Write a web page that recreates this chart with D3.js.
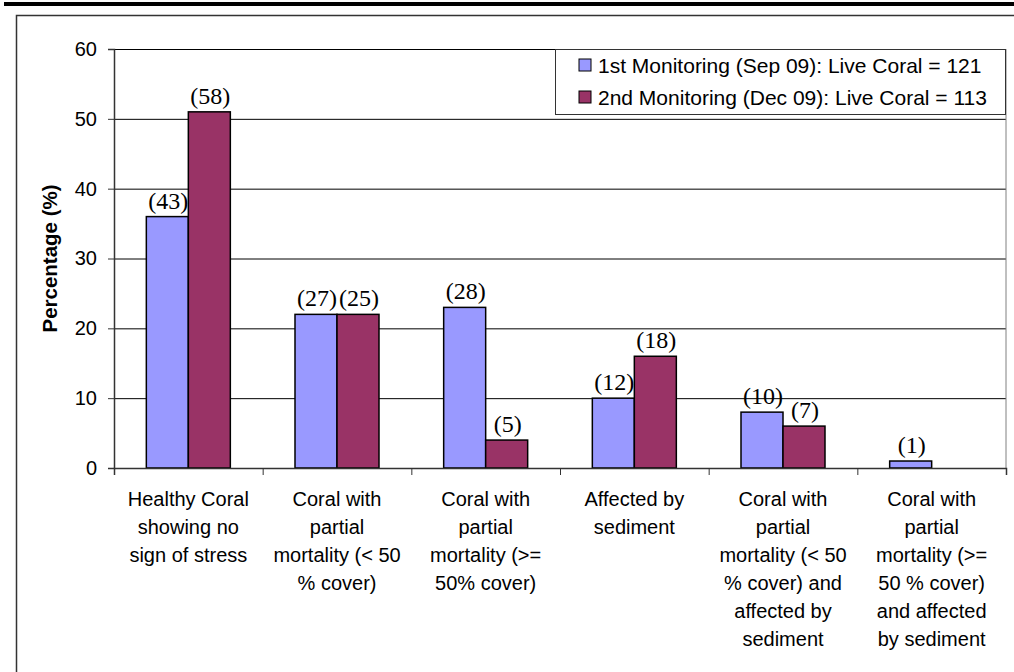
<!DOCTYPE html>
<html>
<head>
<meta charset="utf-8">
<script src="https://cdn.jsdelivr.net/npm/d3@7/dist/d3.min.js"></script>
<style>
  body { margin: 0; background: #fff; }
  svg text { font-family: "Liberation Sans", Arial, sans-serif; }
</style>
</head>
<body>
<div id="chart"></div>
<script>
// the data
var categories = [
    ["Healthy Coral", "showing no", "sign of stress"],
    ["Coral with", "partial", "mortality (< 50", "% cover)"],
    ["Coral with", "partial", "mortality (>=", "50% cover)"],
    ["Affected by", "sediment"],
    ["Coral with", "partial", "mortality (< 50", "% cover) and", "affected by", "sediment"],
    ["Coral with", "partial", "mortality (>=", "50 % cover)", "and affected", "by sediment"]
];
var seriesNames = [
    "1st Monitoring (Sep 09): Live Coral = 121",
    "2nd Monitoring (Dec 09): Live Coral = 113"
];
var firstValues = [36, 22, 23, 10, 8, 1];
var secondValues = [51, 22, 4, 16, 6, 0];
var firstCounts = ["(43)", "(27)", "(28)", "(12)", "(10)", "(1)"];
var secondCounts = ["(58)", "(25)", "(5)", "(18)", "(7)", ""];
var yTicks = [0, 10, 20, 30, 40, 50, 60];

var colors = ["#9999ff", "#993366"];

// box sizes
var width = 1014;
var height = 672;
var plotLeft = 114;
var plotRight = 1006;
var plotTop = 49;
var plotBottom = 468;

var svg = d3
    .select("#chart")
    .append("svg")
    .attr("width", width)
    .attr("height", height);

// thick bar on top and the outer frame
svg.append("rect")
    .attr("x", 4).attr("y", 2)
    .attr("width", width - 4).attr("height", 4)
    .attr("fill", "#000");

svg.append("path")
    .attr("d", "M16.5," + height + "V15.5H" + width)
    .attr("fill", "none")
    .attr("stroke", "#333")
    .attr("stroke-width", 1.5);

// scales
var idx = d3.range(categories.length);
var x0 = d3.scaleBand().domain(idx).range([plotLeft, plotRight]);
var pad = x0.bandwidth() * 0.2175;
var x1 = d3.scaleBand().domain([0, 1]).range([pad, x0.bandwidth() - pad]);
var y = d3.scaleLinear().domain([0, 60]).range([plotBottom, plotTop]);

// gridlines
svg.append("g")
    .attr("class", "grid")
    .attr("transform", "translate(" + plotLeft + ",0)")
    .call(d3.axisLeft(y).tickValues(yTicks).tickSize(-(plotRight - plotLeft)).tickFormat(""))
    .call(function(g) {
        g.select(".domain").remove();
        g.selectAll("line").attr("stroke", "#000").attr("stroke-width", 1);
    });

// right side of plot area
svg.append("line")
    .attr("x1", plotRight).attr("x2", plotRight)
    .attr("y1", plotTop).attr("y2", plotBottom)
    .attr("stroke", "#808080");

// the bars
var rows = idx.map(function(i) {
    return [
        { i: i, s: 0, v: firstValues[i], lab: firstCounts[i] },
        { i: i, s: 1, v: secondValues[i], lab: secondCounts[i] }
    ];
});

var groups = svg.selectAll("g.cat")
    .data(rows)
    .enter()
    .append("g")
    .attr("class", "cat")
    .attr("transform", function(d, i) { return "translate(" + x0(i) + ",0)"; });

groups.selectAll("rect")
    .data(function(d) { return d.filter(function(e) { return e.v > 0; }); })
    .enter()
    .append("rect")
    .attr("x", function(d) { return x1(d.s); })
    .attr("y", function(d) { return y(d.v); })
    .attr("width", x1.bandwidth())
    .attr("height", function(d) { return y(0) - y(d.v); })
    .attr("fill", function(d) { return colors[d.s]; })
    .attr("stroke", "#000")
    .attr("stroke-width", 1.5);

// counts above bars
groups.selectAll("text.count")
    .data(function(d) { return d.filter(function(e) { return e.lab !== ""; }); })
    .enter()
    .append("text")
    .attr("class", "count")
    .attr("x", function(d) { return x1(d.s) + x1.bandwidth() / 2 + 1; })
    .attr("y", function(d) { return y(d.v) - 8; })
    .attr("text-anchor", "middle")
    .style("font-family", "'Liberation Serif', 'Times New Roman', serif")
    .style("font-size", "24px")
    .text(function(d) { return d.lab; });

// y axis
svg.append("g")
    .attr("class", "yAxis")
    .attr("transform", "translate(" + plotLeft + ",0)")
    .call(d3.axisLeft(y).tickValues(yTicks).tickSize(6).tickPadding(11))
    .call(function(g) {
        g.select(".domain").attr("stroke", "#333").attr("stroke-width", 1.5);
        g.selectAll("line").attr("stroke", "#333");
        g.selectAll("text")
            .attr("fill", "#000")
            .style("font-size", "20px")
            .style("font-family", "'Liberation Sans', Arial, sans-serif");
    });

// x axis, ticks between categories
var xTicks = d3.scaleLinear().domain([0, categories.length]).range([plotLeft, plotRight]);
svg.append("g")
    .attr("class", "xAxis")
    .attr("transform", "translate(0," + plotBottom + ")")
    .call(d3.axisBottom(xTicks).ticks(categories.length).tickSize(7).tickFormat(""))
    .call(function(g) {
        g.select(".domain").attr("stroke", "#333").attr("stroke-width", 1.5);
        g.selectAll("line").attr("stroke", "#333");
    });

// category labels, multi line
var catText = svg.selectAll("text.catLabel")
    .data(categories)
    .enter()
    .append("text")
    .attr("class", "catLabel")
    .attr("text-anchor", "middle")
    .style("font-size", "20px")
    .attr("transform", function(d, i) {
        return "translate(" + (x0(i) + x0.bandwidth() / 2) + ",506)";
    });

catText.selectAll("tspan")
    .data(function(d) { return d; })
    .enter()
    .append("tspan")
    .attr("x", 0)
    .attr("y", function(d, j) { return j * 28; })
    .text(function(d) { return d; });

// y title
svg.append("text")
    .attr("transform", "translate(57," + ((plotTop + plotBottom) / 2) + ") rotate(-90)")
    .attr("text-anchor", "middle")
    .style("font-size", "20.5px")
    .style("font-weight", "bold")
    .text("Percentage (%)");

// legend box
var legend = svg.append("g").attr("class", "legend");
legend.append("rect")
    .attr("x", 555.5).attr("y", 49.5)
    .attr("width", 450).attr("height", 65)
    .attr("fill", "#fff")
    .attr("stroke", "#333");

var items = legend.selectAll("g.item")
    .data(seriesNames)
    .enter()
    .append("g")
    .attr("class", "item")
    .attr("transform", function(d, i) { return "translate(579," + (59 + i * 32) + ")"; });

items.append("rect")
    .attr("width", 12).attr("height", 12)
    .attr("fill", function(d, i) { return colors[i]; })
    .attr("stroke", "#000");

items.append("text")
    .attr("x", 19)
    .attr("y", 14)
    .style("font-size", "21px")
    .text(function(d) { return d; });
</script>
</body>
</html>
